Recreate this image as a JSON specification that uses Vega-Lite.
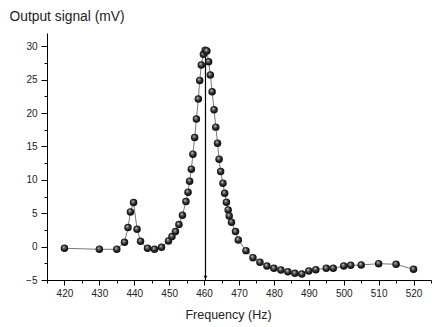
{
  "$schema": "https://vega.github.io/schema/vega-lite/v6.json",
  "width": 384,
  "height": 247,
  "autosize": {"type": "none"},
  "padding": {"left": 47, "top": 33, "right": 5, "bottom": 47},
  "config": {
    "view": {"stroke": null},
    "font": "Liberation Sans",
    "axis": {"grid": false, "domainColor": "#000", "tickColor": "#000", "labelColor": "#222", "titleColor": "#222", "labelFont": "Liberation Sans", "titleFont": "Liberation Sans", "labelFontSize": 10, "titleFontSize": 13, "titleFontWeight": "normal", "labelOverlap": false, "labelFlush": false, "labelBound": false}
  },
  "resolve": {"axis": {"x": "independent", "y": "independent"}},
  "datasets": {
    "signal": [
      {"f": 420, "v": -0.25}, {"f": 430, "v": -0.4}, {"f": 435, "v": -0.4}, {"f": 437.2, "v": 0.65},
      {"f": 438.2, "v": 2.85}, {"f": 438.9, "v": 5.2}, {"f": 439.8, "v": 6.6}, {"f": 440.8, "v": 2.6},
      {"f": 441.8, "v": 0.8}, {"f": 443.8, "v": -0.25}, {"f": 445.8, "v": -0.4}, {"f": 447.8, "v": -0.1},
      {"f": 449.8, "v": 0.85}, {"f": 450.8, "v": 1.5}, {"f": 451.8, "v": 2.25}, {"f": 452.8, "v": 3.3},
      {"f": 453.8, "v": 4.7}, {"f": 454.8, "v": 6.75}, {"f": 455.4, "v": 8.15}, {"f": 455.85, "v": 9.8},
      {"f": 456.35, "v": 11.6}, {"f": 456.8, "v": 13.85}, {"f": 457.3, "v": 16.35}, {"f": 457.8, "v": 19.1},
      {"f": 458.35, "v": 22.1}, {"f": 458.75, "v": 24.9}, {"f": 459.2, "v": 27.2}, {"f": 459.8, "v": 28.8},
      {"f": 460.3, "v": 29.4}, {"f": 460.8, "v": 29.3}, {"f": 461.3, "v": 27.7}, {"f": 461.8, "v": 25.7},
      {"f": 462.3, "v": 23.2}, {"f": 462.85, "v": 20.5}, {"f": 463.35, "v": 17.9}, {"f": 463.85, "v": 15.5},
      {"f": 464.3, "v": 13.1}, {"f": 464.75, "v": 11.25}, {"f": 465.4, "v": 9.5}, {"f": 465.9, "v": 8.0},
      {"f": 466.4, "v": 6.65}, {"f": 466.9, "v": 5.5}, {"f": 467.2, "v": 4.6}, {"f": 467.85, "v": 3.65},
      {"f": 469.0, "v": 2.25}, {"f": 469.8, "v": 1.0}, {"f": 472, "v": -0.6}, {"f": 474, "v": -1.65},
      {"f": 476, "v": -2.35}, {"f": 478, "v": -2.9}, {"f": 480, "v": -3.25}, {"f": 482, "v": -3.5},
      {"f": 484, "v": -3.75}, {"f": 486, "v": -4.0}, {"f": 488, "v": -4.1}, {"f": 490, "v": -3.65},
      {"f": 492, "v": -3.45}, {"f": 495, "v": -3.25}, {"f": 497, "v": -3.25}, {"f": 500, "v": -2.9},
      {"f": 502, "v": -2.8}, {"f": 505, "v": -2.75}, {"f": 510, "v": -2.55}, {"f": 515, "v": -2.65},
      {"f": 520, "v": -3.4}
    ],
    "marker": [{"f": 460.4, "top": 29.4, "bottom": -5, "arrow": -4.6}]
  },
  "layer": [
    {
      "data": {"name": "signal"},
      "mark": {"type": "line", "color": "#555", "strokeWidth": 0.8},
      "encoding": {
        "x": {"field": "f", "type": "quantitative", "scale": {"domain": [415, 525], "nice": false, "zero": false},
          "axis": {"orient": "bottom", "title": "Frequency (Hz)", "values": [420, 430, 440, 450, 460, 470, 480, 490, 500, 510, 520],
            "tickSize": 5, "labelPadding": 3, "titleFontSize": 12.5, "titleX": 181, "titleY": 38, "titleAlign": "center", "titleBaseline": "alphabetic"}},
        "y": {"field": "v", "type": "quantitative", "scale": {"domain": [-5, 32], "nice": false, "zero": false},
          "axis": {"orient": "left", "title": "Output signal (mV)", "values": [-5, 0, 5, 10, 15, 20, 25, 30],
            "tickSize": 6, "labelPadding": 4, "titleFontSize": 13.8, "titleAngle": 0, "titleAlign": "left", "titleBaseline": "alphabetic", "titleX": -38, "titleY": -13}}
      }
    },
    {
      "data": {"name": "marker"},
      "mark": {"type": "rule", "color": "#000", "strokeWidth": 1.2},
      "encoding": {
        "x": {"field": "f", "type": "quantitative",
          "axis": {"orient": "bottom", "title": null, "labels": false, "domain": false, "tickSize": 3, "values": [415, 425, 435, 445, 455, 465, 475, 485, 495, 505, 515, 525]}},
        "y": {"field": "top", "type": "quantitative",
          "axis": {"orient": "left", "title": null, "labels": false, "domain": false, "tickSize": 3, "values": [-2.5, 2.5, 7.5, 12.5, 17.5, 22.5, 27.5]}},
        "y2": {"field": "bottom"}
      }
    },
    {
      "data": {"name": "marker"},
      "mark": {"type": "point", "shape": "triangle-down", "filled": true, "color": "#000", "size": 14, "opacity": 1},
      "encoding": {
        "x": {"field": "f", "type": "quantitative", "axis": null},
        "y": {"field": "arrow", "type": "quantitative", "axis": null}
      }
    },
    {
      "data": {"name": "signal"},
      "mark": {"type": "point", "filled": true, "size": 56, "opacity": 1, "strokeWidth": 0,
        "fill": {"gradient": "radial", "x1": 0.38, "y1": 0.32, "r1": 0, "x2": 0.5, "y2": 0.5, "r2": 0.55,
          "stops": [{"offset": 0, "color": "#f0f0f0"}, {"offset": 0.25, "color": "#777777"}, {"offset": 0.6, "color": "#222222"}, {"offset": 1, "color": "#0a0a0a"}]}},
      "encoding": {
        "x": {"field": "f", "type": "quantitative", "axis": null},
        "y": {"field": "v", "type": "quantitative", "axis": null}
      }
    }
  ]
}
